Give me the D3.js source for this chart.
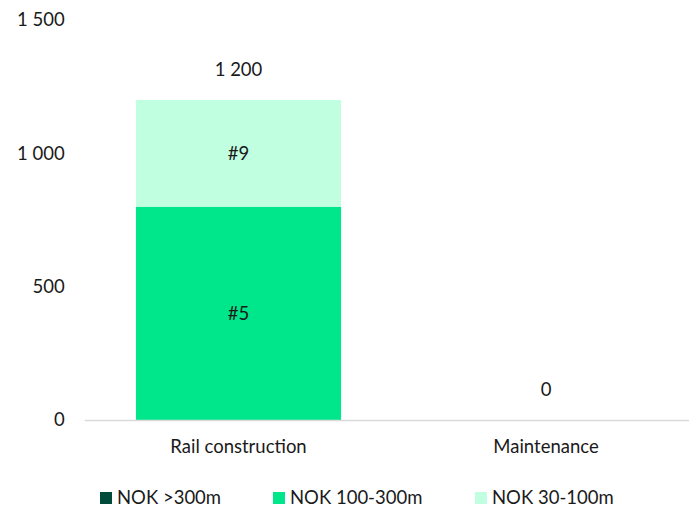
<!DOCTYPE html>
<html>
<head>
<meta charset="utf-8">
<script src="https://cdn.jsdelivr.net/npm/d3@7"></script>
<style>
  html, body { margin: 0; padding: 0; background: #fff; }
  svg { display: block; font-family: Lato, "Open Sans", sans-serif; }
</style>
</head>
<body>
<svg id="chart" width="689" height="508"></svg>
<script>
// Categories and stacked series (NOK millions)
const categories = ["Rail construction", "Maintenance"];
const seriesNames = ["NOK >300m", "NOK 100-300m", "NOK 30-100m"];
const seriesColors = ["#004B3A", "#00E68A", "#C0FFE0"];
const over300 = [0, 0];
const from100to300 = [800, 0];
const from30to100 = [400, 0];
const segmentLabels = [["", ""], ["#5", ""], ["#9", ""]];
const yTicks = [0, 500, 1000, 1500];

const seriesValues = [over300, from100to300, from30to100];
const rows = categories.map((c, i) => {
  const r = { category: c };
  seriesNames.forEach((s, k) => { r[s] = seriesValues[k][i]; });
  return r;
});
const totals = categories.map((c, i) => d3.sum(seriesValues, v => v[i]));

const locale = d3.formatLocale({ decimal: ",", thousands: " ", grouping: [3], currency: ["", ""] });
const fmt = locale.format(",d");

const fontSize = 18.5;
const textColor = "#1a1a1a";

const svg = d3.select("#chart");
const plotLeft = 84.75, plotRight = 699.75, plotTop = 20, plotBottom = 420;

const x = d3.scaleBand().domain(categories).range([plotLeft, plotRight]).paddingInner(0.333).paddingOuter(0.1665);
const y = d3.scaleLinear().domain([0, 1500]).range([plotBottom, plotTop]);

// Y axis labels (no line, no ticks)
const yAxis = svg.append("g").attr("transform", `translate(${plotLeft - 20},0)`)
  .call(d3.axisLeft(y).tickValues(yTicks).tickFormat(fmt).tickSize(0).tickPadding(0));
yAxis.select(".domain").remove();
yAxis.selectAll("text").attr("font-size", fontSize).attr("fill", textColor).attr("font-family", "Lato, sans-serif");

// Stacked bars
const stack = d3.stack().keys(seriesNames)(rows);
const layers = svg.append("g").selectAll("g").data(stack).join("g")
  .attr("fill", (d, k) => seriesColors[k]);
layers.selectAll("rect").data(d => d).join("rect")
  .attr("x", d => x(d.data.category))
  .attr("width", x.bandwidth())
  .attr("y", d => y(d[1]))
  .attr("height", d => y(d[0]) - y(d[1]));

// Segment labels
stack.forEach((layer, k) => {
  layer.forEach((d, i) => {
    const txt = segmentLabels[k][i];
    if (!txt || d[1] - d[0] <= 0) return;
    svg.append("text")
      .attr("x", x(d.data.category) + x.bandwidth() / 2)
      .attr("y", y((d[0] + d[1]) / 2))
      .attr("dy", "0.35em")
      .attr("text-anchor", "middle")
      .attr("font-size", fontSize)
      .attr("fill", textColor)
      .text(txt);
  });
});

// X axis line and category labels
svg.append("line")
  .attr("x1", plotLeft).attr("x2", plotRight)
  .attr("y1", y(0) + 0.5).attr("y2", y(0) + 0.5)
  .attr("stroke", "#d9d9d9").attr("stroke-width", 1.5);
const xAxis = svg.append("g").attr("transform", `translate(0,${plotBottom})`)
  .call(d3.axisBottom(x).tickSize(0).tickPadding(20));
xAxis.select(".domain").remove();
xAxis.selectAll("text").attr("font-size", fontSize).attr("fill", textColor).attr("font-family", "Lato, sans-serif");

// Totals above each bar
svg.append("g").selectAll("text").data(categories).join("text")
  .attr("x", c => x(c) + x.bandwidth() / 2)
  .attr("y", (c, i) => y(totals[i]) - 30)
  .attr("dy", "0.35em")
  .attr("text-anchor", "middle")
  .attr("font-size", fontSize)
  .attr("fill", textColor)
  .text((c, i) => fmt(totals[i]));

// Legend
const legendX = [100, 273, 475];
const legend = svg.append("g").selectAll("g").data(seriesNames).join("g")
  .attr("transform", (d, k) => `translate(${legendX[k]},492)`);
legend.append("rect").attr("width", 12).attr("height", 12).attr("fill", (d, k) => seriesColors[k]);
legend.append("text").attr("x", 17).attr("y", 6).attr("dy", "0.35em")
  .attr("font-size", fontSize).attr("fill", textColor).text(d => d);
</script>
</body>
</html>
